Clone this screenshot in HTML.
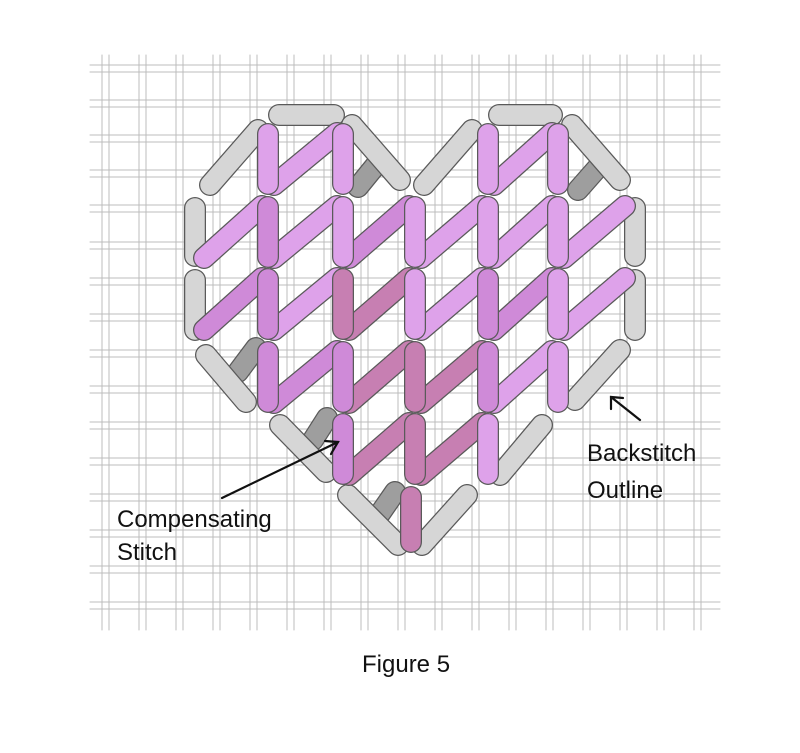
<!DOCTYPE html>
<html><head><meta charset="utf-8"><style>
body{margin:0;background:#fff;width:800px;height:748px;overflow:hidden}
text{font-family:"Liberation Sans",sans-serif;fill:#111}
path{fill:none;stroke-linecap:round}
.o{stroke:#5a5a5a;stroke-width:22}
.g{stroke:#d6d6d6;stroke-width:19.5}
.k{stroke:#9e9e9e;stroke-width:19.5}
.p{stroke:#dea2ea;stroke-width:19.5}
.m{stroke:#cf8ad8;stroke-width:19.5}
.r{stroke:#c77fb2;stroke-width:19.5}
</style></head><body>
<svg width="800" height="748" viewBox="0 0 800 748" xmlns="http://www.w3.org/2000/svg">
<g stroke="#bcbcbc" stroke-width="1">
<path d="M102 55V630M109 55V630M139 55V630M146 55V630M176 55V630M183 55V630M213 55V630M220 55V630M250 55V630M257 55V630M287 55V630M294 55V630M324 55V630M331 55V630M361 55V630M368 55V630M398 55V630M405 55V630M435 55V630M442 55V630M472 55V630M479 55V630M509 55V630M516 55V630M546 55V630M553 55V630M583 55V630M590 55V630M620 55V630M627 55V630M657 55V630M664 55V630M694 55V630M701 55V630"/>
<path d="M90 65H720M90 72H720M90 100H720M90 107H720M90 135H720M90 142H720M90 170H720M90 177H720M90 205H720M90 212H720M90 242H720M90 249H720M90 278H720M90 285H720M90 314H720M90 321H720M90 350H720M90 357H720M90 386H720M90 393H720M90 422H720M90 429H720M90 458H720M90 465H720M90 494H720M90 501H720M90 530H720M90 537H720M90 566H720M90 573H720M90 602H720M90 609H720"/>
</g>
<path class="o" d="M238 372L256 348"/><path class="k" d="M238 372L256 348"/>
<path class="o" d="M313 440L327 418"/><path class="k" d="M313 440L327 418"/>
<path class="o" d="M377 518L395 492"/><path class="k" d="M377 518L395 492"/>
<path class="o" d="M358 187L380 160"/><path class="k" d="M358 187L380 160"/>
<path class="o" d="M578 190L600 165"/><path class="k" d="M578 190L600 165"/>
<path class="o" d="M279 115H334"/><path class="g" d="M279 115H334"/>
<path class="o" d="M499 115H552"/><path class="g" d="M499 115H552"/>
<path class="o" d="M210 185L258 130"/><path class="g" d="M210 185L258 130"/>
<path class="o" d="M352 125L400 180"/><path class="g" d="M352 125L400 180"/>
<path class="o" d="M424 185L472 130"/><path class="g" d="M424 185L472 130"/>
<path class="o" d="M572 125L620 180"/><path class="g" d="M572 125L620 180"/>
<path class="o" d="M195 208V256"/><path class="g" d="M195 208V256"/>
<path class="o" d="M195 280V330"/><path class="g" d="M195 280V330"/>
<path class="o" d="M635 208V256"/><path class="g" d="M635 208V256"/>
<path class="o" d="M635 280V330"/><path class="g" d="M635 280V330"/>
<path class="o" d="M206 355L246 402"/><path class="g" d="M206 355L246 402"/>
<path class="o" d="M280 425L326 472"/><path class="g" d="M280 425L326 472"/>
<path class="o" d="M348 495L398 545"/><path class="g" d="M348 495L398 545"/>
<path class="o" d="M575 400L620 350"/><path class="g" d="M575 400L620 350"/>
<path class="o" d="M500 475L542 425"/><path class="g" d="M500 475L542 425"/>
<path class="o" d="M422 545L467 495"/><path class="g" d="M422 545L467 495"/>
<path class="o" d="M274 185L337 133"/><path class="p" d="M274 185L337 133"/>
<path class="o" d="M494 185L552 133"/><path class="p" d="M494 185L552 133"/>
<path class="o" d="M268 134V184"/><path class="p" d="M268 134V184"/>
<path class="o" d="M343 134V184"/><path class="p" d="M343 134V184"/>
<path class="o" d="M488 134V184"/><path class="p" d="M488 134V184"/>
<path class="o" d="M558 134V184"/><path class="p" d="M558 134V184"/>
<path class="o" d="M204 258L262 206"/><path class="p" d="M204 258L262 206"/>
<path class="o" d="M274 258L337 206"/><path class="p" d="M274 258L337 206"/>
<path class="o" d="M349 258L409 206"/><path class="m" d="M349 258L409 206"/>
<path class="o" d="M421 258L482 206"/><path class="p" d="M421 258L482 206"/>
<path class="o" d="M494 258L552 206"/><path class="p" d="M494 258L552 206"/>
<path class="o" d="M564 258L625 206"/><path class="p" d="M564 258L625 206"/>
<path class="o" d="M268 207V257"/><path class="m" d="M268 207V257"/>
<path class="o" d="M343 207V257"/><path class="p" d="M343 207V257"/>
<path class="o" d="M415 207V257"/><path class="p" d="M415 207V257"/>
<path class="o" d="M488 207V257"/><path class="p" d="M488 207V257"/>
<path class="o" d="M558 207V257"/><path class="p" d="M558 207V257"/>
<path class="o" d="M204 330L262 278"/><path class="m" d="M204 330L262 278"/>
<path class="o" d="M274 330L337 278"/><path class="p" d="M274 330L337 278"/>
<path class="o" d="M349 330L409 278"/><path class="r" d="M349 330L409 278"/>
<path class="o" d="M421 330L482 278"/><path class="p" d="M421 330L482 278"/>
<path class="o" d="M494 330L552 278"/><path class="m" d="M494 330L552 278"/>
<path class="o" d="M564 330L625 278"/><path class="p" d="M564 330L625 278"/>
<path class="o" d="M268 279V329"/><path class="m" d="M268 279V329"/>
<path class="o" d="M343 279V329"/><path class="r" d="M343 279V329"/>
<path class="o" d="M415 279V329"/><path class="p" d="M415 279V329"/>
<path class="o" d="M488 279V329"/><path class="m" d="M488 279V329"/>
<path class="o" d="M558 279V329"/><path class="p" d="M558 279V329"/>
<path class="o" d="M274 403L337 351"/><path class="m" d="M274 403L337 351"/>
<path class="o" d="M349 403L409 351"/><path class="r" d="M349 403L409 351"/>
<path class="o" d="M421 403L482 351"/><path class="r" d="M421 403L482 351"/>
<path class="o" d="M494 403L552 351"/><path class="p" d="M494 403L552 351"/>
<path class="o" d="M268 352V402"/><path class="m" d="M268 352V402"/>
<path class="o" d="M343 352V402"/><path class="m" d="M343 352V402"/>
<path class="o" d="M415 352V402"/><path class="r" d="M415 352V402"/>
<path class="o" d="M488 352V402"/><path class="m" d="M488 352V402"/>
<path class="o" d="M558 352V402"/><path class="p" d="M558 352V402"/>
<path class="o" d="M349 475L409 423"/><path class="r" d="M349 475L409 423"/>
<path class="o" d="M421 475L482 423"/><path class="r" d="M421 475L482 423"/>
<path class="o" d="M343 424V474"/><path class="m" d="M343 424V474"/>
<path class="o" d="M415 424V474"/><path class="r" d="M415 424V474"/>
<path class="o" d="M488 424V474"/><path class="p" d="M488 424V474"/>
<path class="o" d="M411 497V542"/><path class="r" d="M411 497V542"/>
<g stroke="#111" stroke-width="2.2" fill="none">
<path d="M222 498L338 442"/><path d="M325 441L338 442L331 454"/>
<path d="M640 420L611 397"/><path d="M611 409L611 397L623 398"/>
</g>
<text x="117" y="527" font-size="24">Compensating</text>
<text x="117" y="560" font-size="24">Stitch</text>
<text x="587" y="461" font-size="24">Backstitch</text>
<text x="587" y="498" font-size="24">Outline</text>
<text x="362" y="672" font-size="24">Figure 5</text>
</svg>
</body></html>
